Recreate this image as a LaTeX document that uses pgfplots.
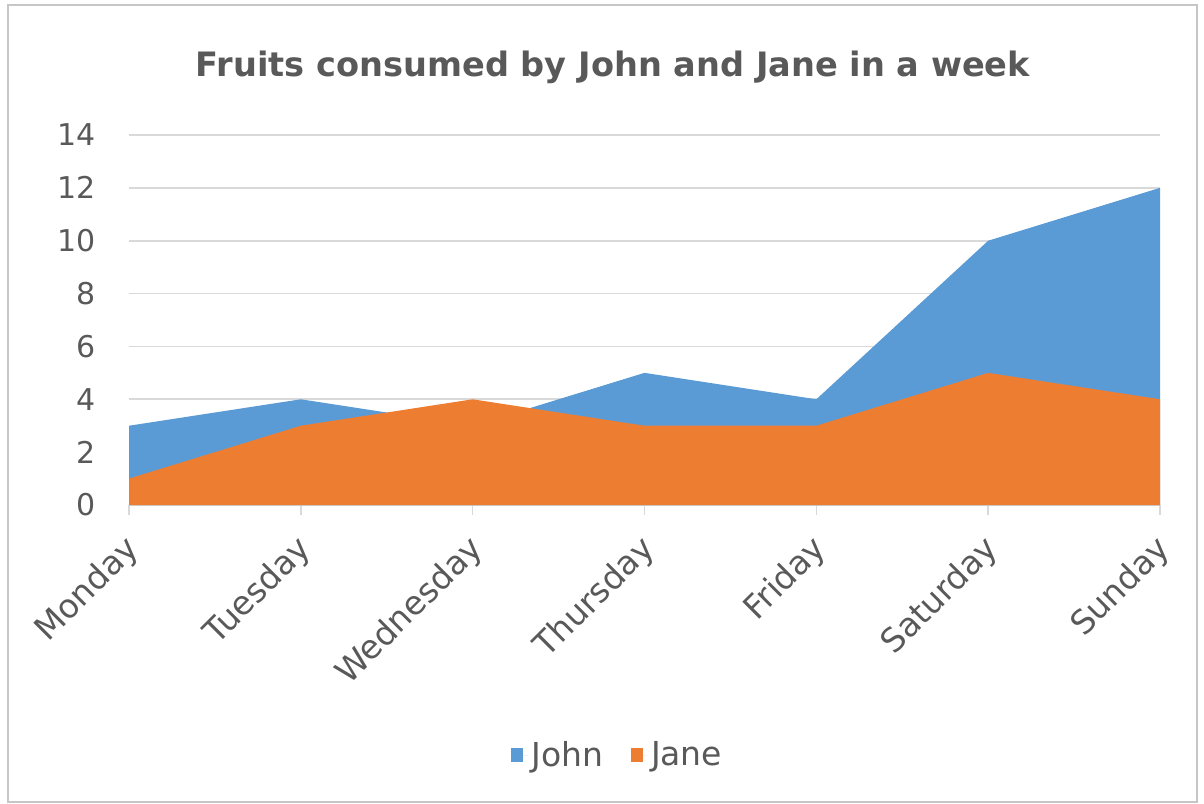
\documentclass[border=0pt]{standalone}
\usepackage{pgfplots}
\pgfplotsset{compat=1.18}
\usepackage{fontspec}
\setmainfont{DejaVu Sans}
\definecolor{johnblue}{HTML}{5B9BD5}
\definecolor{janeorange}{HTML}{ED7D31}
\definecolor{txtgray}{HTML}{595959}
\definecolor{gridgray}{HTML}{D9D9D9}
\begin{document}
\begin{tikzpicture}
\useasboundingbox (0pt,0pt) rectangle (602pt,401.5pt);
\draw[gray!45, line width=0.6pt] (4pt,0.5pt) rectangle (598.5pt,399pt);
\node[font=\bfseries\fontsize{16.8}{19}\selectfont, text=txtgray] at (306.5pt,368pt) {Fruits consumed by John and Jane in a week};
\begin{axis}[
  at={(64.5pt,149pt)}, anchor=south west,
  scale only axis, width=515.5pt, height=185pt,
  xmin=0, xmax=6, ymin=0, ymax=14,
  xtick={0,...,6},
  xticklabels={Monday,Tuesday,Wednesday,Thursday,Friday,Saturday,Sunday},
  ytick={0,2,...,14},
  /pgf/number format/assume math mode=true,
  ymajorgrids, grid style={gridgray, line width=0.8pt},
  axis lines*=left,
  y axis line style={draw=none},
  x axis line style={gridgray, line width=0.8pt},
  tick align=outside,
  major tick length=5pt,
  xtick style={gridgray, line width=0.8pt},
  ytick style={draw=none},
  yticklabel style={font=\fontsize{15}{17}\selectfont, text=txtgray, xshift=-8pt},
  xticklabel style={font=\fontsize{16.5}{18}\selectfont, text=txtgray, xshift=5pt, yshift=-12pt, rotate=45, anchor=east},
  legend style={at={(0.475,-0.676)}, anchor=center, draw=none, legend columns=2,
    font=\fontsize{16.5}{18}\selectfont, text=txtgray,
    /tikz/every even column/.append style={column sep=12pt}},
  legend image code/.code={\fill[#1] (0pt,-3.5pt) rectangle (6pt,3.5pt); \path (0pt,0pt) -- (8pt,0pt);},
]
\addplot[fill=johnblue, draw=none] coordinates {(0,3) (1,4) (2,3) (3,5) (4,4) (5,10) (6,12)} \closedcycle;
\addlegendentry{John}
\addplot[fill=janeorange, draw=none] coordinates {(0,1) (1,3) (2,4) (3,3) (4,3) (5,5) (6,4)} \closedcycle;
\addlegendentry{Jane}
\end{axis}
\end{tikzpicture}
\end{document}
